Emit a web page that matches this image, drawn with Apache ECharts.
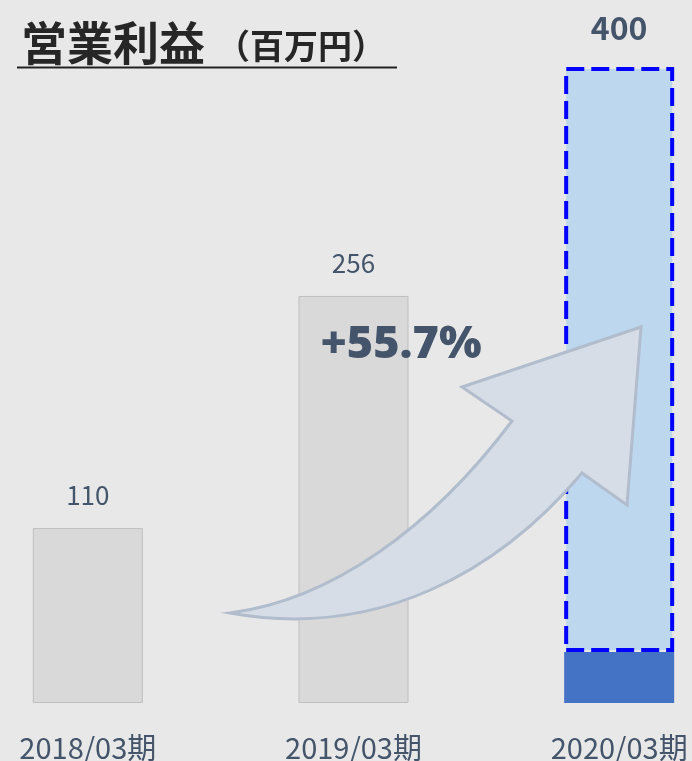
<!DOCTYPE html>
<html>
<head>
<meta charset="utf-8">
<script src="https://cdn.jsdelivr.net/npm/echarts@6/dist/echarts.min.js"></script>
<style>
html,body{margin:0;padding:0;background:#e8e8e8;}
#c{width:692px;height:761px;}
</style>
</head>
<body>
<div id="c"></div>
<script>
const categories = ['2018/03期', '2019/03期', '2020/03期'];
const values = [110, 256, 400];
const solid2020 = 32;           // dark blue base portion of the 2020 bar
const growthText = '+55.7%';
const titleMain = '営業利益';
const titleUnit = '（百万円）';

const FONT = '"Noto Sans CJK JP", "Noto Sans", sans-serif';
const TXT = '#44546a';

const ArrowShape = echarts.graphic.extendPath(
  'M230,613 C330,600 430,530 512,421 L462,387 L641,327 L627,505 L582,473 C500,570 380,640 230,613 Z', {}
);
echarts.graphic.registerShape('curvedArrow', ArrowShape);

const baseData = values.map((v, i) => {
  if (i === values.length - 1) {
    return { value: solid2020, itemStyle: { color: '#4472c4', borderColor: '#4472c4', borderWidth: 0 }, label: { show: false } };
  }
  return v;
});
const topData = values.map((v, i) => i === values.length - 1 ? v - solid2020 : '-');

const chart = echarts.init(document.getElementById('c'), null, { renderer: 'canvas' });
chart.setOption({
  backgroundColor: '#e8e8e8',
  animation: false,
  title: {
    left: 16, top: 9,
    text: '{a|' + titleMain + '}{b|' + titleUnit + '}',
    textStyle: {
      rich: {
        a: { fontFamily: FONT, fontSize: 46, fontWeight: 'bold', color: '#262626', lineHeight: 52, verticalAlign: 'bottom' },
        b: { fontFamily: FONT, fontSize: 34, fontWeight: 'bold', color: '#262626', lineHeight: 52, verticalAlign: 'bottom', padding: [0, 0, 3, 11] }
      }
    }
  },
  grid: { left: -45, width: 797, top: 67, bottom: 58, containLabel: false, outerBoundsMode: 'none' },
  xAxis: {
    type: 'category',
    data: categories,
    axisLine: { show: false },
    axisTick: { show: false },
    axisLabel: { fontFamily: FONT, fontSize: 29, color: TXT, margin: 30, interval: 0 }
  },
  yAxis: {
    type: 'value', min: 0, max: 400,
    show: false, splitLine: { show: false }
  },
  series: [
    {
      type: 'bar', stack: 'a', barWidth: 110,
      data: baseData,
      itemStyle: { color: '#d9d9d9', borderColor: '#bfbfbf', borderWidth: 1 },
      label: { show: true, position: 'top', distance: 20, fontFamily: FONT, fontSize: 26, color: TXT }
    },
    {
      type: 'bar', stack: 'a', barWidth: 110,
      data: topData,
      itemStyle: { color: '#bdd7ee', borderColor: '#0000ff', borderWidth: 4, borderType: [18, 7] },
      label: {
        show: true, position: 'top', distance: 23,
        fontFamily: FONT, fontSize: 32, fontWeight: 'bold', color: TXT,
        formatter: (p) => String(values[p.dataIndex])
      }
    }
  ],
  graphic: [
    {
      type: 'line', z: 10,
      shape: { x1: 17, y1: 67.5, x2: 397, y2: 67.5 },
      style: { stroke: '#222', lineWidth: 2 }
    },
    {
      type: 'curvedArrow', z: 20,
      style: { fill: '#d6dde7', stroke: '#b1bccd', lineWidth: 3, lineJoin: 'miter' }
    },
    {
      type: 'text', z: 30,
      x: 401, y: 345,
      style: {
        text: growthText, fontFamily: '"Open Sans", "Noto Sans", sans-serif', fontSize: 45, fontWeight: 800,
        fill: TXT, align: 'center', verticalAlign: 'middle'
      }
    }
  ]
});
</script>
</body>
</html>
